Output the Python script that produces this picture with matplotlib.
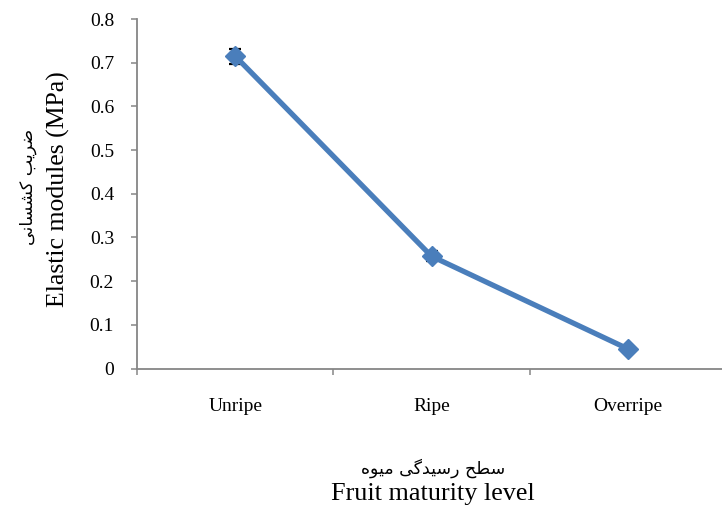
import matplotlib
matplotlib.use("Agg")
import matplotlib.pyplot as plt

# Elastic modulus by fruit maturity stage
stages = ["Unripe", "Ripe", "Overripe"]
modulus = [0.715, 0.257, 0.045]
modulus_err = [0.017, 0.012, 0.004]

y_ticks = [0, 0.1, 0.2, 0.3, 0.4, 0.5, 0.6, 0.7, 0.8]
y_tick_labels = ["0", "0.1", "0.2", "0.3", "0.4", "0.5", "0.6", "0.7", "0.8"]

ylabel_fa = "ضریب کشسانی"
ylabel_en = "Elastic modules (MPa)"
xlabel_fa = "سطح رسیدگی میوه"
xlabel_en = "Fruit maturity level"

# matplotlib has no Arabic shaping, so pick the contextual glyphs by hand
# (isolated, final, initial, medial); right-joining letters have no initial/medial.
FORMS = {
    "\u0627": ("\uFE8D", "\uFE8E", None, None),        # alef
    "\u0628": ("\uFE8F", "\uFE90", "\uFE91", "\uFE92"),  # beh
    "\u062D": ("\uFEA1", "\uFEA2", "\uFEA3", "\uFEA4"),  # hah
    "\u062F": ("\uFEA9", "\uFEAA", None, None),        # dal
    "\u0631": ("\uFEAD", "\uFEAE", None, None),        # reh
    "\u0633": ("\uFEB1", "\uFEB2", "\uFEB3", "\uFEB4"),  # seen
    "\u0634": ("\uFEB5", "\uFEB6", "\uFEB7", "\uFEB8"),  # sheen
    "\u0636": ("\uFEBD", "\uFEBE", "\uFEBF", "\uFEC0"),  # dad
    "\u0637": ("\uFEC1", "\uFEC2", "\uFEC3", "\uFEC4"),  # tah
    "\u0645": ("\uFEE1", "\uFEE2", "\uFEE3", "\uFEE4"),  # meem
    "\u0646": ("\uFEE5", "\uFEE6", "\uFEE7", "\uFEE8"),  # noon
    "\u0647": ("\uFEE9", "\uFEEA", "\uFEEB", "\uFEEC"),  # heh
    "\u0648": ("\uFEED", "\uFEEE", None, None),        # waw
    "\u06A9": ("\uFB8E", "\uFB8F", "\uFB90", "\uFB91"),  # keheh
    "\u06AF": ("\uFB92", "\uFB93", "\uFB94", "\uFB95"),  # gaf
    "\u06CC": ("\uFBFC", "\uFBFD", "\uFBFE", "\uFBFF"),  # farsi yeh
}


def shape_persian(text):
    out = []
    for i, ch in enumerate(text):
        if ch not in FORMS:
            out.append(ch)
            continue
        prev = text[i - 1] if i > 0 else ""
        nxt = text[i + 1] if i + 1 < len(text) else ""
        iso, fin, ini, med = FORMS[ch]
        joins_prev = prev in FORMS and FORMS[prev][2] is not None
        joins_next = ini is not None and nxt in FORMS
        if joins_prev and joins_next:
            out.append(med)
        elif joins_prev:
            out.append(fin)
        elif joins_next:
            out.append(ini)
        else:
            out.append(iso)
    # visual order, right to left
    return "".join(reversed(out))


serif = ["Liberation Serif", "DejaVu Sans"]
persian = ["DejaVu Sans"]
line_color = "#4a7ebb"
axis_color = "#868686"

W, H = 722, 511
fig = plt.figure(figsize=(W / 100, H / 100), dpi=100)
ax = fig.add_axes([137 / W, (H - 368.5) / H, (726 - 137) / W, (368.5 - 19) / H])

x = list(range(len(stages)))
ax.errorbar(x, modulus, yerr=modulus_err, fmt="none", ecolor="black",
            elinewidth=1.2, capsize=4.5, capthick=1.6, zorder=2)
ax.plot(x, modulus, color=line_color, linewidth=3.8, marker="D",
        markersize=10.5, markerfacecolor=line_color, markeredgecolor=line_color,
        zorder=3, solid_capstyle="round")

ax.set_xlim(-0.5, 2.5)
ax.set_ylim(0, 0.8)
ax.set_yticks(y_ticks)
ax.set_yticklabels(y_tick_labels, fontfamily=serif, fontsize=14)
ax.set_xticks([-0.5, 0.5, 1.5, 2.5])
ax.set_xticklabels([])
ax.set_xticks(x, minor=True)
ax.set_xticklabels(stages, minor=True, fontfamily=serif, fontsize=14)

for side in ["top", "right"]:
    ax.spines[side].set_visible(False)
for side in ["left", "bottom"]:
    ax.spines[side].set_color(axis_color)
    ax.spines[side].set_linewidth(1.3)

ax.tick_params(axis="y", which="major", direction="out", length=4.5,
               width=1.1, color=axis_color, pad=12, labelcolor="black")
ax.tick_params(axis="x", which="major", direction="out", length=4.5,
               width=1.1, color=axis_color)
ax.tick_params(axis="x", which="minor", length=0, pad=21, labelcolor="black")

# two-line axis titles: Persian above English
fig.text(28 / W, 1 - 187 / H, shape_persian(ylabel_fa), rotation=90,
         ha="center", va="center", fontfamily=persian, fontsize=12.5)
fig.text(65 / W, 1 - 189 / H, ylabel_en, rotation=90, rotation_mode="anchor",
         ha="center", va="baseline", fontfamily=serif, fontsize=18.5)
fig.text(433 / W, 1 - 468 / H, shape_persian(xlabel_fa),
         ha="center", va="center", fontfamily=persian, fontsize=12.5)
fig.text(433 / W, 1 - 500 / H, xlabel_en,
         ha="center", va="baseline", fontfamily=serif, fontsize=18.8)

fig.savefig("out.png", dpi=100)
